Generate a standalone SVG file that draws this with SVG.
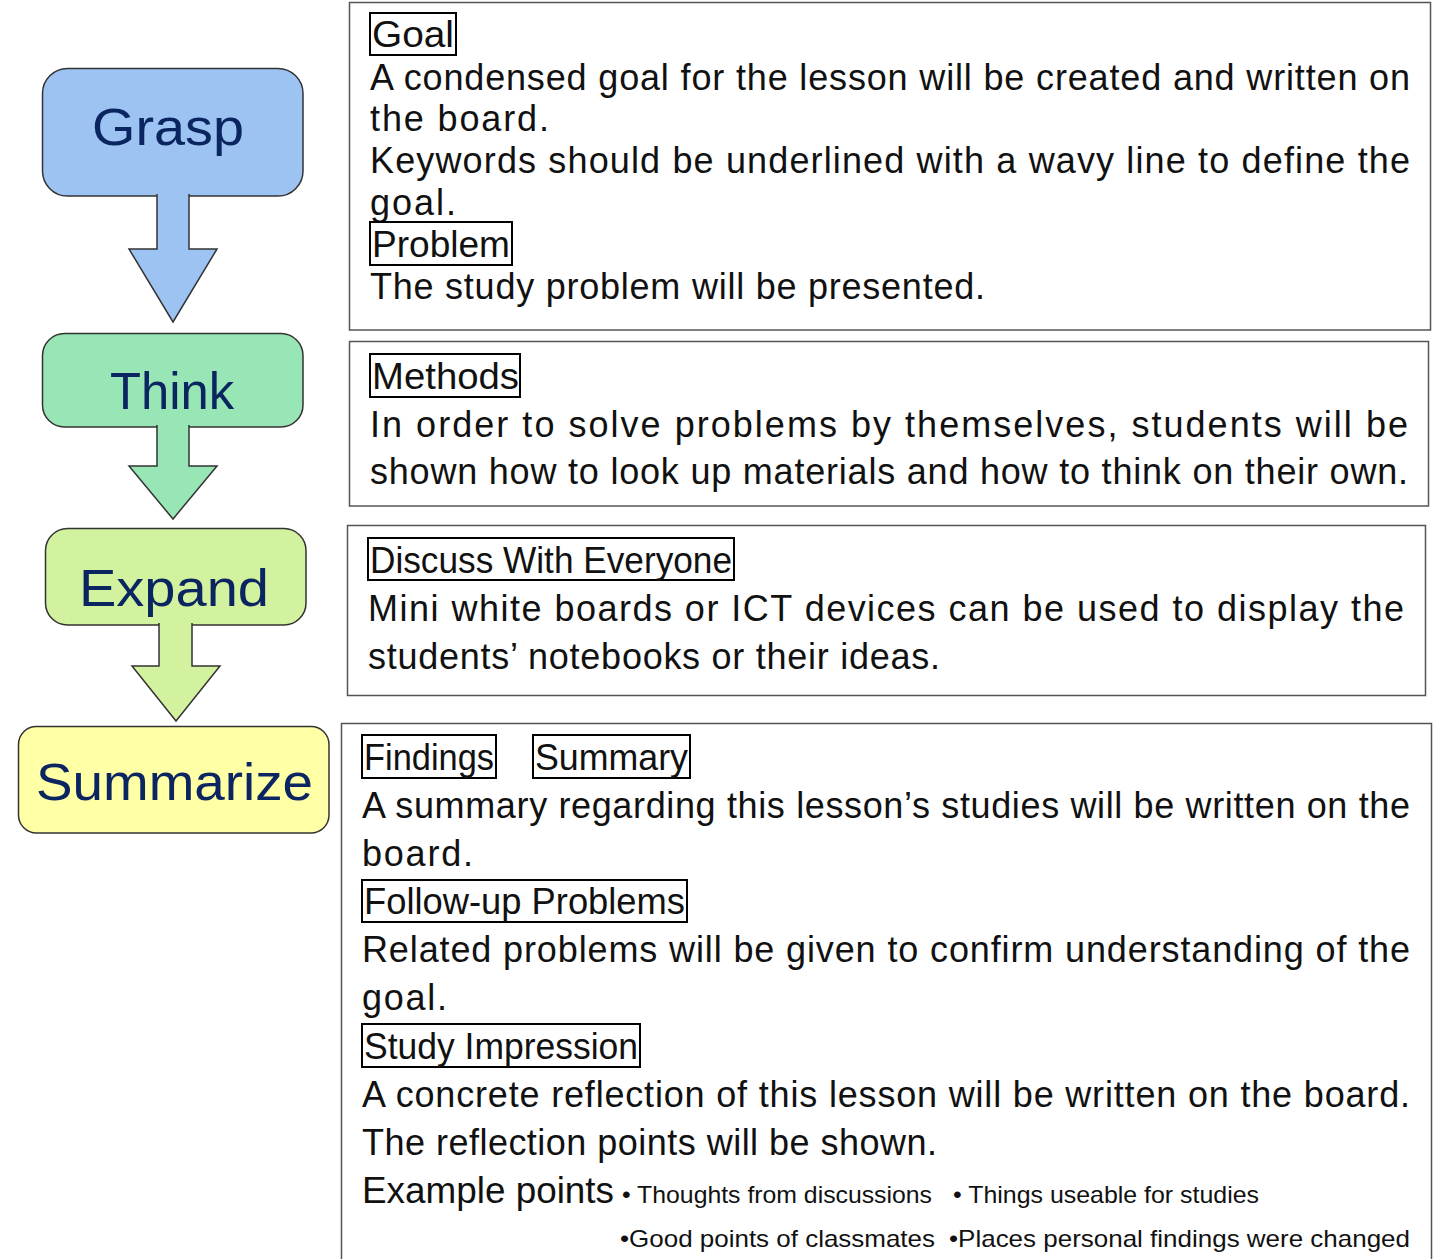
<svg xmlns="http://www.w3.org/2000/svg" width="1446" height="1259" viewBox="0 0 1446 1259">
<style>
.bg{fill:#ffffff}
.stage{stroke:#333333;stroke-width:1.5}
.stxt{font-family:"Liberation Sans",Arial,sans-serif;font-size:52px;fill:#0b2560}
.panel{fill:#ffffff;stroke:#555555;stroke-width:1.5}
.lbl{fill:none;stroke:#000000;stroke-width:2}
.t{font-family:"Liberation Sans",Arial,sans-serif;font-size:36px;fill:#111111}
.big{font-size:37px}
.sm{font-family:"Liberation Sans",Arial,sans-serif;font-size:24px;fill:#111111}
.arrow{stroke:#333333;stroke-width:1.5;stroke-linejoin:miter}
</style>
<rect class="bg" x="0" y="0" width="1446" height="1259"/>

<g id="node-grasp">
<rect class="stage" x="42.5" y="68.5" width="260.5" height="127.5" rx="25" fill="#9dc3f3"/>
<text class="stxt" x="92" y="145" textLength="152" lengthAdjust="spacingAndGlyphs">Grasp</text>
</g>
<g id="node-think">
<rect class="stage" x="42.5" y="333.5" width="260.5" height="93.5" rx="22" fill="#98e6b5"/>
<text class="stxt" x="110" y="409" textLength="124" lengthAdjust="spacingAndGlyphs">Think</text>
</g>
<g id="node-expand">
<rect class="stage" x="45.5" y="528.5" width="260.5" height="96.5" rx="22" fill="#d2f2a0"/>
<text class="stxt" x="79" y="606" textLength="190" lengthAdjust="spacingAndGlyphs">Expand</text>
</g>
<g id="node-summarize">
<rect class="stage" x="18.5" y="726.5" width="310.5" height="106.5" rx="18" fill="#ffffa6"/>
<text class="stxt" x="36" y="800" textLength="277" lengthAdjust="spacingAndGlyphs">Summarize</text>
</g>

<g id="connectors">
<path class="arrow" fill="#9dc3f3" d="M157,194 L157,249 L129,249 L173,322 L217,249 L189,249 L189,194"/>
<path class="arrow" fill="#98e6b5" d="M157,425 L157,466 L129,466 L173,519 L217,466 L189,466 L189,425"/>
<path class="arrow" fill="#d2f2a0" d="M159,623 L159,666 L132,666 L176,721 L220,666 L192,666 L192,623"/>
</g>

<g id="node-grasp-detail">
<rect class="panel" x="349.5" y="2.5" width="1081" height="327.5"/>
<rect class="lbl" x="370" y="13" width="86" height="42"/>
<text class="t" x="372" y="47" textLength="82" lengthAdjust="spacingAndGlyphs">Goal</text>
<text class="t" x="370" y="90" textLength="1040">A condensed goal for the lesson will be created and written on</text>
<text class="t" x="370" y="131" textLength="179">the board.</text>
<text class="t" x="370" y="173" textLength="1040">Keywords should be underlined with a wavy line to define the</text>
<text class="t" x="370" y="215" textLength="86">goal.</text>
<rect class="lbl" x="370" y="222" width="142" height="43"/>
<text class="t" x="372" y="257" textLength="138" lengthAdjust="spacingAndGlyphs">Problem</text>
<text class="t" x="370" y="299" textLength="615">The study problem will be presented.</text>
</g>

<g id="node-think-detail">
<rect class="panel" x="349.5" y="341.5" width="1079" height="164.5"/>
<rect class="lbl" x="370" y="354" width="150" height="43"/>
<text class="t" x="372" y="389" textLength="147" lengthAdjust="spacingAndGlyphs">Methods</text>
<text class="t" x="370" y="437" textLength="1038">In order to solve problems by themselves, students will be</text>
<text class="t" x="370" y="484" textLength="1038">shown how to look up materials and how to think on their own.</text>
</g>

<g id="node-expand-detail">
<rect class="panel" x="347.5" y="525.5" width="1078" height="170"/>
<rect class="lbl" x="368" y="538" width="366" height="42"/>
<text class="t" x="370" y="573" textLength="362" lengthAdjust="spacingAndGlyphs">Discuss With Everyone</text>
<text class="t" x="368" y="621" textLength="1036">Mini white boards or ICT devices can be used to display the</text>
<text class="t" x="368" y="669" textLength="572">students’ notebooks or their ideas.</text>
</g>

<g id="node-summarize-detail">
<rect class="panel" x="341.5" y="723.5" width="1090" height="560"/>
<rect class="lbl" x="362" y="735" width="134" height="43"/>
<text class="t" x="364" y="770" textLength="130" lengthAdjust="spacingAndGlyphs">Findings</text>
<rect class="lbl" x="533" y="735" width="157" height="43"/>
<text class="t" x="535" y="770" textLength="153" lengthAdjust="spacingAndGlyphs">Summary</text>
<text class="t" x="362" y="818" textLength="1048">A summary regarding this lesson’s studies will be written on the</text>
<text class="t" x="362" y="866" textLength="111">board.</text>
<rect class="lbl" x="362" y="880" width="325" height="42"/>
<text class="t" x="364" y="914" textLength="321" lengthAdjust="spacingAndGlyphs">Follow-up Problems</text>
<text class="t" x="362" y="962" textLength="1048">Related problems will be given to confirm understanding of the</text>
<text class="t" x="362" y="1010" textLength="85">goal.</text>
<rect class="lbl" x="362" y="1024" width="278" height="43"/>
<text class="t" x="364" y="1059" textLength="274" lengthAdjust="spacingAndGlyphs">Study Impression</text>
<text class="t" x="362" y="1107" textLength="1048">A concrete reflection of this lesson will be written on the board.</text>
<text class="t" x="362" y="1155" textLength="575">The reflection points will be shown.</text>
<text class="t big" x="362" y="1203" textLength="252" lengthAdjust="spacingAndGlyphs">Example points</text>
<text class="sm" x="622" y="1203" textLength="310" lengthAdjust="spacingAndGlyphs">• Thoughts from discussions</text>
<text class="sm" x="953" y="1203" textLength="306" lengthAdjust="spacingAndGlyphs">• Things useable for studies</text>
<text class="sm" x="620" y="1247" textLength="315" lengthAdjust="spacingAndGlyphs">•Good points of classmates</text>
<text class="sm" x="949" y="1247" textLength="461" lengthAdjust="spacingAndGlyphs">•Places personal findings were changed</text>
</g>
</svg>
